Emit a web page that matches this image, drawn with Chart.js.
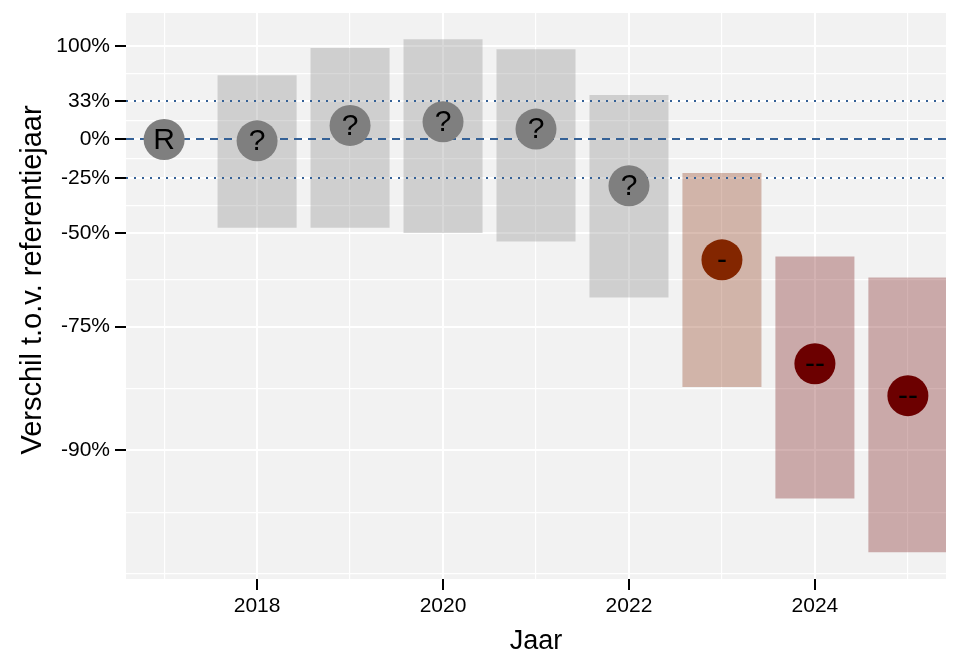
<!DOCTYPE html>
<html>
<head>
<meta charset="utf-8">
<script src="https://cdn.jsdelivr.net/npm/chart.js@4/dist/chart.umd.min.js"></script>
<style>
  html, body { margin: 0; padding: 0; background: #fff; }
  #trend { display: block; }
</style>
</head>
<body>
<canvas id="trend" width="960" height="672"></canvas>
<script>
// Jaren en geschatte verschillen t.o.v. referentiejaar (in %)
const years = [2017, 2018, 2019, 2020, 2021, 2022, 2023, 2024, 2025];
const estimate = [0, -1, 11, 14, 8, -29, -59, -81, -85];
const lower = [null, -48, -48, -50, -53, -69, -84, -93, -95.3];
const upper = [null, 61, 97, 110, 95, 39, -22, -58, -64];
const klasse = ["R", "?", "?", "?", "?", "?", "-", "--", "--"];

// y-as: labels en hulplijnen (in %)
const yTicks = [100, 33, 0, -25, -50, -75, -90];
const yMinor = [63.1, 15.3, -13.4, -38.8, -64.6, -84.2, -93.7, -96];
const refDashed = [0];
const refDotted = [33, -25];

const klasseKleur = { "R": "#7f7f7f", "?": "#7f7f7f", "-": "#832600", "--": "#6c0000" };
const klasseBalk = {
  "R": "rgba(127,127,127,0.3)", "?": "rgba(127,127,127,0.3)",
  "-": "rgba(131,38,0,0.3)", "--": "rgba(108,0,0,0.3)"
};

const ratio = p => 1 + p / 100;
const FONT = "'Liberation Sans', Arial, sans-serif";
const lijnBlauw = "#356196";
const yTitel = "Verschil t.o.v. referentiejaar";

(function () {
  if (typeof Chart === "undefined") return;

  const barData = [], barColors = [];
  years.forEach((y, i) => {
    if (lower[i] === null) return;
    barData.push({ x: y, y: [ratio(lower[i]), ratio(upper[i])] });
    barColors.push(klasseBalk[klasse[i]]);
  });
  const pointData = years.map((y, i) => ({ x: y, y: ratio(estimate[i]) }));
  const pointColors = klasse.map(k => klasseKleur[k]);

  const majorY = yTicks.map(ratio);
  const isMajorY = v => majorY.some(m => Math.abs(m - v) < 1e-9);
  const noPad = s => { s.paddingTop = 0; s.paddingBottom = 0; s.paddingLeft = 0; s.paddingRight = 0; };

  const panelBg = {
    id: "panelBg",
    beforeDraw(chart) {
      const { ctx, chartArea: a } = chart;
      ctx.save();
      ctx.fillStyle = "#f2f2f2";
      ctx.fillRect(a.left, a.top, a.right - a.left, a.bottom - a.top);
      ctx.restore();
    },
    afterDraw(chart) {
      // y-as titel (iets boven het midden van het paneel, zoals in het origineel)
      const { ctx, chartArea: a } = chart;
      ctx.save();
      ctx.translate(33, (a.top + a.bottom) / 2 - 16);
      ctx.rotate(-Math.PI / 2);
      ctx.fillStyle = "#000";
      ctx.font = "29px " + FONT;
      ctx.textAlign = "center";
      ctx.textBaseline = "middle";
      ctx.fillText(yTitel, 0, 0);
      ctx.restore();
    }
  };

  const refLines = {
    id: "refLines",
    afterDatasetDraw(chart, args) {
      if (args.index !== 0) return;
      const { ctx, chartArea: a, scales: { y } } = chart;
      ctx.save();
      ctx.strokeStyle = lijnBlauw;
      ctx.lineWidth = 2;
      const draw = (vals, dash) => vals.forEach(v => {
        const py = Math.round(y.getPixelForValue(ratio(v)));
        ctx.setLineDash(dash);
        ctx.beginPath();
        ctx.moveTo(a.left, py);
        ctx.lineTo(a.right, py);
        ctx.stroke();
      });
      draw(refDashed, [8, 6]);
      draw(refDotted, [2, 6]);
      ctx.restore();
    }
  };

  const pointLabels = {
    id: "pointLabels",
    afterDatasetsDraw(chart) {
      const { ctx } = chart;
      const meta = chart.getDatasetMeta(1);
      ctx.save();
      ctx.fillStyle = "#000";
      ctx.font = "30px " + FONT;
      ctx.textAlign = "center";
      ctx.textBaseline = "middle";
      meta.data.forEach((pt, i) => ctx.fillText(klasse[i], pt.x, pt.y + 1));
      ctx.restore();
    }
  };

  new Chart(document.getElementById("trend"), {
    type: "bar",
    data: {
      datasets: [
        {
          type: "bar",
          data: barData,
          backgroundColor: barColors,
          borderWidth: 0,
          categoryPercentage: 1,
          barPercentage: 0.85,
          grouped: false,
          order: 2
        },
        {
          type: "scatter",
          data: pointData,
          pointRadius: 20.5,
          pointHoverRadius: 20.5,
          pointBackgroundColor: pointColors,
          pointBorderWidth: 0,
          showLine: false,
          clip: false,
          order: 1
        }
      ]
    },
    options: {
      responsive: false,
      animation: false,
      layout: { autoPadding: false, padding: { top: 13, right: 14, left: 0, bottom: 0 } },
      plugins: { legend: { display: false }, tooltip: { enabled: false } },
      scales: {
        x: {
          type: "linear",
          min: 2016.59,
          max: 2025.41,
          offset: false,
          afterBuildTicks(scale) { scale.ticks = years.map(v => ({ value: v })); },
          afterFit(scale) { scale.height = 93; noPad(scale); },
          border: { display: false },
          grid: {
            offset: false,
            color: "#ffffff",
            lineWidth: c => (c.tick && c.tick.value % 2 === 0 ? 2 : 1.2),
            tickColor: c => (c.tick && c.tick.value % 2 === 0 ? "#000" : "rgba(0,0,0,0)"),
            tickLength: 11,
            tickWidth: 2
          },
          ticks: {
            autoSkip: false,
            maxRotation: 0,
            padding: 4,
            color: "#000",
            font: { family: FONT, size: 21 },
            callback: v => (v % 2 === 0 ? String(v) : "")
          },
          title: {
            display: true,
            text: "Jaar",
            color: "#000",
            font: { family: FONT, size: 27 },
            padding: { top: 0, bottom: 14 }
          }
        },
        y: {
          type: "logarithmic",
          min: 0.03857,
          max: 2.552,
          afterBuildTicks(scale) {
            scale.ticks = majorY.concat(yMinor.map(ratio)).map(v => ({ value: v }));
          },
          afterFit(scale) { scale.width = 126; noPad(scale); },
          border: { display: false },
          grid: {
            color: "#ffffff",
            lineWidth: c => (c.tick && isMajorY(c.tick.value) ? 2 : 1.2),
            tickColor: c => (c.tick && isMajorY(c.tick.value) ? "#000" : "rgba(0,0,0,0)"),
            tickLength: 11,
            tickWidth: 2
          },
          ticks: {
            autoSkip: false,
            padding: 5,
            color: "#000",
            font: { family: FONT, size: 21 },
            callback: function (v) {
              const i = majorY.findIndex(m => Math.abs(m - v) < 1e-9);
              return i < 0 ? "" : yTicks[i] + "%";
            }
          },
          title: { display: false }
        }
      }
    },
    plugins: [panelBg, refLines, pointLabels]
  });
})();
</script>
</body>
</html>
